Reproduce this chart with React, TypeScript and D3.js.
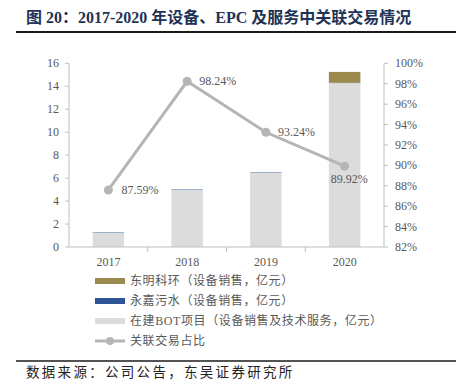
import React from 'react';
import * as d3 from 'd3';

const years = ['2017', '2018', '2019', '2020'];
const botValues = [1.22, 4.98, 6.45, 14.28];
const yongjiaValues = [0.04, 0.04, 0.04, 0.02];
const dongmingValues = [0, 0, 0, 0.95];
const ratioValues = [87.59, 98.24, 93.24, 89.92];
const leftTicks = [0, 2, 4, 6, 8, 10, 12, 14, 16];
const rightTicks = [82, 84, 86, 88, 90, 92, 94, 96, 98, 100];

const seriesNames = [
  '东明科环（设备销售，亿元）',
  '永嘉污水（设备销售，亿元）',
  '在建BOT项目（设备销售及技术服务，亿元）',
  '关联交易占比',
];
const colors = ['#9a8a4e', '#2e5597', '#dcdcdc', '#b5b5b5'];

const W = 456;
const H = 392;
const serif = '"Times New Roman", "Liberation Serif", "Noto Sans CJK SC", serif';

export default function App() {
  const left = 69;
  const right = 384;
  const top = 63.3;
  const bottom = 247;

  const x = d3.scaleBand<string>().domain(years).range([left, right]).paddingInner(0.6).paddingOuter(0.3);
  const xOuter = d3.scaleBand<string>().domain(years).range([left, right]);
  const y = d3.scaleLinear().domain([0, 16]).range([bottom, top]);
  const y2 = d3.scaleLinear().domain([82, 100]).range([bottom, top]);

  const rows = years.map((yr, i) => ({
    year: yr,
    bot: botValues[i],
    yongjia: yongjiaValues[i],
    dongming: dongmingValues[i],
  }));
  const stack = d3.stack<any>().keys(['bot', 'yongjia', 'dongming'])(rows);
  const stackColors = [colors[2], colors[1], colors[0]];

  const line = d3.line<number>()
    .x((_, i) => xOuter(years[i])! + xOuter.bandwidth() / 2)
    .y(d => y2(d));

  // label offsets per point
  const labelPos = [
    { dx: 13, dy: 4, anchor: 'start' },
    { dx: 12, dy: 4, anchor: 'start' },
    { dx: 12, dy: 4, anchor: 'start' },
    { dx: -14, dy: 17, anchor: 'start' },
  ];

  const tickColor = '#595959';
  const axisColor = '#bfbfbf';

  return (
    <svg width={W} height={H} style={{ position: 'absolute', left: 0, top: 0, background: '#fff' }}>
      {/* title */}
      <text x={26} y={22.5} fontFamily={serif} fontWeight="bold" fontSize={16} fill="#1f3356">
        图 20：2017-2020 年设备、EPC 及服务中关联交易情况
      </text>
      <line x1={16} x2={456} y1={32} y2={32} stroke="#1a1a1a" strokeWidth={2} />

      {/* bars */}
      {stack.map((s, si) => (
        <g key={si}>
          {s.map((d, i) => (
            <rect
              key={i}
              x={x(years[i])}
              width={x.bandwidth()}
              y={y(d[1])}
              height={Math.max(0, y(d[0]) - y(d[1]))}
              fill={stackColors[si]}
            />
          ))}
        </g>
      ))}

      {/* left axis */}
      <line x1={left} x2={left} y1={top} y2={bottom} stroke={axisColor} />
      {leftTicks.map(t => (
        <g key={t}>
          <line x1={left - 4} x2={left} y1={y(t)} y2={y(t)} stroke={axisColor} />
          <text x={left - 10} y={y(t) + 4} textAnchor="end" fontFamily={serif} fontSize={12} fill={tickColor}>{t}</text>
        </g>
      ))}

      {/* right axis */}
      <line x1={right} x2={right} y1={top} y2={bottom} stroke={axisColor} />
      {rightTicks.map(t => (
        <g key={t}>
          <line x1={right} x2={right + 4} y1={y2(t)} y2={y2(t)} stroke={axisColor} />
          <text x={right + 11} y={y2(t) + 4} fontFamily={serif} fontSize={12} fill={tickColor}>{t}%</text>
        </g>
      ))}

      {/* bottom axis */}
      <line x1={left} x2={right} y1={bottom} y2={bottom} stroke={axisColor} />
      {years.map((yr, i) => (
        <g key={yr}>
          {i > 0 && <line x1={xOuter(yr)} x2={xOuter(yr)} y1={bottom} y2={bottom + 5} stroke={axisColor} />}
          <text x={xOuter(yr)! + xOuter.bandwidth() / 2} y={bottom + 19} textAnchor="middle" fontFamily={serif} fontSize={12} fill={tickColor}>{yr}</text>
        </g>
      ))}

      {/* ratio line */}
      <path d={line(ratioValues) || ''} fill="none" stroke={colors[3]} strokeWidth={3} />
      {ratioValues.map((v, i) => {
        const cx = xOuter(years[i])! + xOuter.bandwidth() / 2;
        const cy = y2(v);
        const lp = labelPos[i];
        return (
          <g key={i}>
            <circle cx={cx} cy={cy} r={4.5} fill={colors[3]} />
            <text x={cx + lp.dx} y={cy + lp.dy} textAnchor={lp.anchor} fontFamily={serif} fontSize={12} fill={tickColor}>{v.toFixed(2)}%</text>
          </g>
        );
      })}

      {/* legend */}
      {seriesNames.map((name, i) => {
        const ly = 281 + i * 20;
        return (
          <g key={name}>
            {i < 3 ? (
              <rect x={95} y={ly - 3} width={30} height={6} fill={colors[i]} />
            ) : (
              <g>
                <line x1={95} x2={125} y1={ly} y2={ly} stroke={colors[3]} strokeWidth={3} />
                <circle cx={110} cy={ly} r={4} fill={colors[3]} />
              </g>
            )}
            <text x={130} y={ly + 4} fontFamily={serif} fontSize={12} letterSpacing={0.6} fill={tickColor}>{name}</text>
          </g>
        );
      })}

      {/* footer */}
      <line x1={16} x2={456} y1={361} y2={361} stroke="#1a1a1a" strokeWidth={1.5} />
      <text x={26} y={377} fontFamily={serif} fontSize={13.5} letterSpacing={2.3} fill="#222">数据来源：公司公告，东吴证券研究所</text>
    </svg>
  );
}
